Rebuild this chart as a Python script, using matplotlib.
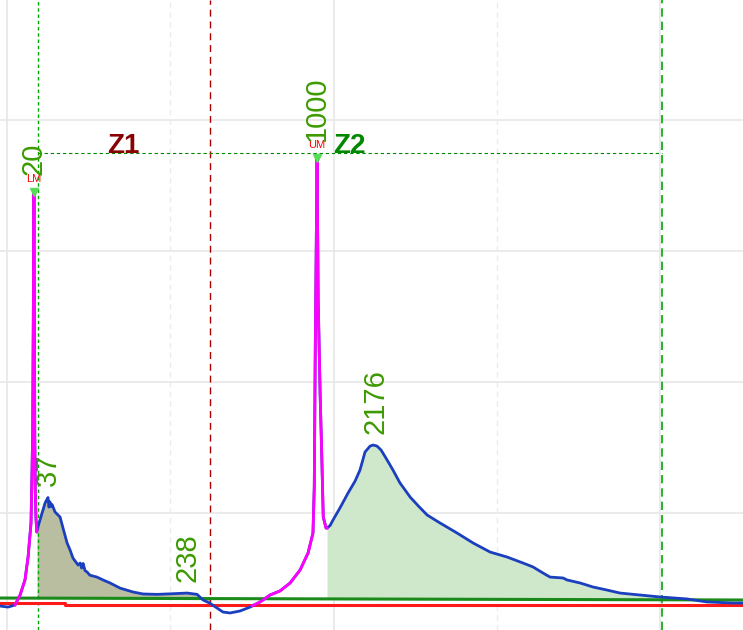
import numpy as np
import matplotlib
matplotlib.use("Agg")
import matplotlib.pyplot as plt

plt.rcParams['font.family'] = ['Liberation Sans', 'DejaVu Sans']

# detector trace (time in min, signal in mV)
time = [-0.043, 0.006, 0.049, 0.080, 0.110, 0.129, 0.147, 0.153, 0.157, 0.161,
        0.165, 0.168, 0.170, 0.173, 0.177, 0.182, 0.184, 0.202, 0.233, 0.245,
        0.251, 0.257, 0.263, 0.270, 0.276, 0.294, 0.325, 0.343, 0.368, 0.386,
        0.404, 0.435, 0.448, 0.457, 0.466, 0.478, 0.490, 0.508, 0.551, 0.588,
        0.631, 0.692, 0.772, 0.833, 0.919, 1.017, 1.103, 1.164, 1.201, 1.243,
        1.323, 1.366, 1.427, 1.489, 1.501, 1.550, 1.611, 1.672, 1.734, 1.795,
        1.844, 1.874, 1.882, 1.888, 1.899, 1.906, 1.918, 1.927, 1.937, 1.954,
        1.960, 1.979, 1.997, 2.039, 2.089, 2.132, 2.162, 2.193, 2.224, 2.242,
        2.266, 2.291, 2.328, 2.364, 2.407, 2.438, 2.469, 2.520, 2.573, 2.652,
        2.757, 2.855, 2.959, 3.063, 3.161, 3.222, 3.283, 3.326, 3.406, 3.430,
        3.510, 3.590, 3.675, 3.755, 3.877, 4.000, 4.165, 4.288, 4.447, 4.508]
signal = [29.0, 28.2, 29.8, 37.4, 48.9, 66.4, 92.4, 130.5, 160.0, 250.0,
          345.0, 250.0, 160.0, 117.6, 96.9, 85.5, 87.0, 94.7, 107.6, 110.5,
          111.8, 104.5, 108.5, 105.0, 106.5, 100.8, 96.9, 88.5, 77.1, 71.8,
          65.6, 60.3, 61.8, 58.0, 61.5, 56.0, 55.0, 52.5, 51.1, 48.9,
          46.6, 42.7, 39.7, 38.2, 37.9, 38.4, 38.9, 37.9, 33.6, 31.1,
          24.4, 23.7, 25.2, 28.2, 29.0, 32.1, 37.4, 40.5, 46.6, 56.5,
          69.5, 84.7, 120.0, 224.0, 371.0, 262.0, 190.0, 148.0, 97.0, 88.5,
          88.5, 90.5, 94.7, 103.8, 115.3, 124.4, 132.8, 146.6, 151.1, 151.9,
          151.1, 148.1, 140.5, 132.8, 122.9, 117.6, 112.2, 105.3, 98.5, 92.4,
          84.7, 77.1, 70.2, 66.4, 61.8, 58.8, 54.2, 51.1, 50.4, 48.9,
          46.6, 43.5, 41.2, 38.9, 37.4, 35.9, 34.4, 32.1, 31.3, 31.3]

# marker (standard) peak ranges drawn in magenta
marker_ranges = [(0.049, 0.184), (1.501, 1.960)]

# baselines
base_t = [-0.043, 4.508]
base_y = [35.1, 33.6]
red_t = [-0.043, 0.355, 0.355, 4.508]
red_y = [31.1, 31.1, 29.8, 29.8]

# zones
z1_range = (0.184, 1.243)
z2_range = (1.960, 4.30)
zone_start = 0.192
zone_mid = 1.243
zone_end = 4.012
zone_level = 374.8

# markers LM / UM
markers = [("LM", "20", 0.165, 345.0), ("UM", "1000", 1.899, 371.0)]
# integrated peaks
peak_labels = ["37", "238", "2176"]
peak_t = [0.251, 1.103, 2.254]
peak_y = [111.8, 38.9, 151.9]

t = np.array(time)
s = np.array(signal)
base = np.interp(t, base_t, base_y)

fig = plt.figure(figsize=(7.43, 6.30), dpi=100)
ax = fig.add_axes([0, 0, 1, 1])
ax.set_xlim(-0.043, 4.508)
ax.set_ylim(10.7, 491.6)
ax.axis('off')

# grid
for gx in [0, 2, 4]:
    ax.axvline(gx, color='#e6e6e6', lw=1.2, zorder=0)
for gx in [1, 3]:
    ax.axvline(gx, color='#ececec', lw=1.0, ls=(0, (4, 3)), zorder=0)
for gy in [100, 200, 300, 400]:
    ax.axhline(gy, color='#e8e8e8', lw=1.2, zorder=0)

# zone fills
m1 = (t >= z1_range[0]) & (t <= z1_range[1])
ax.fill_between(t[m1], s[m1], base[m1], color='#b9bea0', lw=0, zorder=1)
m2 = (t >= z2_range[0]) & (t <= z2_range[1])
ax.fill_between(t[m2], s[m2], base[m2], where=s[m2] >= base[m2],
                interpolate=True, color='#cfe8cb', lw=0, zorder=1)

# baselines
ax.plot(base_t, base_y, color='#1a8a1a', lw=2.2, zorder=3)
ax.plot(red_t, red_y, color='#ff1a1a', lw=2.2, zorder=3)

# trace
ax.plot(t, s, color='#1a3fbf', lw=2.0, zorder=4, solid_joinstyle='round')
for a, b in marker_ranges:
    mm = (t >= a) & (t <= b)
    ax.plot(t[mm], s[mm], color='#ff00ff', lw=2.0, zorder=5)

# zone boundaries
ax.axvline(zone_start, color='#00aa00', lw=1.0, ls=(0, (2.5, 2)), zorder=2)
ax.axvline(zone_mid, color='#aa0000', lw=1.0, ls=(0, (5, 3.5)), zorder=2)
ax.axvline(zone_end, color='#00aa00', lw=1.2, ls=(0, (5, 3)), zorder=2)
ax.plot([zone_start, zone_end], [zone_level, zone_level], color='#008800',
        lw=0.8, ls=(0, (3, 2.5)), zorder=2)

ax.text(0.613, zone_level, "Z1", color='#8b0000', fontsize=20,
        fontweight='bold', ha='left', va='baseline')
ax.text(1.997, zone_level, "Z2", color='#008800', fontsize=20,
        fontweight='bold', ha='left', va='baseline')

num_color = '#3c9a00'
for name, val, mt, my in markers:
    ax.plot(mt, my, marker='v', color='#55dd55', ms=6, zorder=6)
    ax.annotate(name, (mt, my), xytext=(0, 9.5), textcoords='offset points',
                ha='center', va='center', color='#ff0000', fontsize=8)
    ax.annotate(val, (mt, my), xytext=(0, 12), textcoords='offset points',
                ha='center', va='bottom', rotation=90, color=num_color,
                fontsize=21)

for lab, pt, py in zip(peak_labels, peak_t, peak_y):
    ax.annotate(lab, (pt, py), xytext=(0, 8), textcoords='offset points',
                ha='center', va='bottom', rotation=90, color=num_color,
                fontsize=21)

fig.savefig('out.png', dpi=100)
